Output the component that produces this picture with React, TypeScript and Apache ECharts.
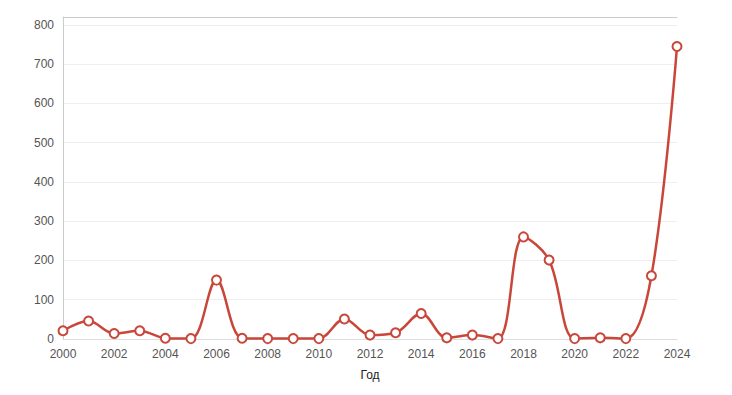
import React, { useEffect, useRef } from "react";
import * as echarts from "echarts";

const years = [2000, 2001, 2002, 2003, 2004, 2005, 2006, 2007, 2008, 2009, 2010, 2011, 2012, 2013, 2014, 2015, 2016, 2017, 2018, 2019, 2020, 2021, 2022, 2023, 2024];
const values = [21, 46, 14, 21, 2, 1, 150, 2, 1, 1, 1, 51, 10, 16, 65, 3, 10, 1, 260, 201, 1, 3, 1, 161, 745];
const axisName = "Год";

export default function App() {
  const ref = useRef<HTMLDivElement>(null);
  useEffect(() => {
    if (!ref.current) return;
    const chart = echarts.init(ref.current, null, { renderer: "svg" });
    const font = "Liberation Sans, Arial, sans-serif";
    chart.setOption({
      animation: false,
      grid: { left: 55, right: 55, top: 9, bottom: 56, containLabel: false },
      xAxis: [
        {
          type: "value",
          min: 2000,
          max: 2024,
          interval: 2,
          name: axisName,
          nameLocation: "middle",
          nameGap: 30,
          nameTextStyle: { color: "#222", fontSize: 12, fontFamily: font },
          axisLine: { show: true, lineStyle: { color: "#ddd" } },
          axisTick: { show: false },
          axisLabel: { color: "#555", fontSize: 12, margin: 9, fontFamily: font, formatter: (v: number) => String(v) },
          splitLine: { show: false },
        },
        {
          type: "value",
          position: "top",
          min: 2000,
          max: 2024,
          axisLine: { show: true, lineStyle: { color: "#ccc" } },
          axisTick: { show: false },
          axisLabel: { show: false },
          splitLine: { show: false },
        },
      ],
      yAxis: {
        type: "value",
        min: 0,
        max: 820,
        interval: 100,
        axisLine: { show: true, lineStyle: { color: "#ccc" } },
        axisTick: { show: false },
        axisLabel: { color: "#555", fontSize: 12, margin: 9, showMaxLabel: false, fontFamily: font },
        splitLine: { show: true, lineStyle: { color: "#eee" } },
      },
      series: [
        {
          type: "line",
          xAxisIndex: 0,
          data: years.map((y, i) => [y, values[i]]),
          smooth: 0.35,
          symbol: "circle",
          symbolSize: 9,
          showSymbol: true,
          lineStyle: { color: "#c8473a", width: 2.5 },
          itemStyle: { color: "#fff", borderColor: "#c8473a", borderWidth: 2 },
        },
      ],
    });
    return () => chart.dispose();
  }, []);
  return <div ref={ref} style={{ width: 724, height: 387 }} />;
}
